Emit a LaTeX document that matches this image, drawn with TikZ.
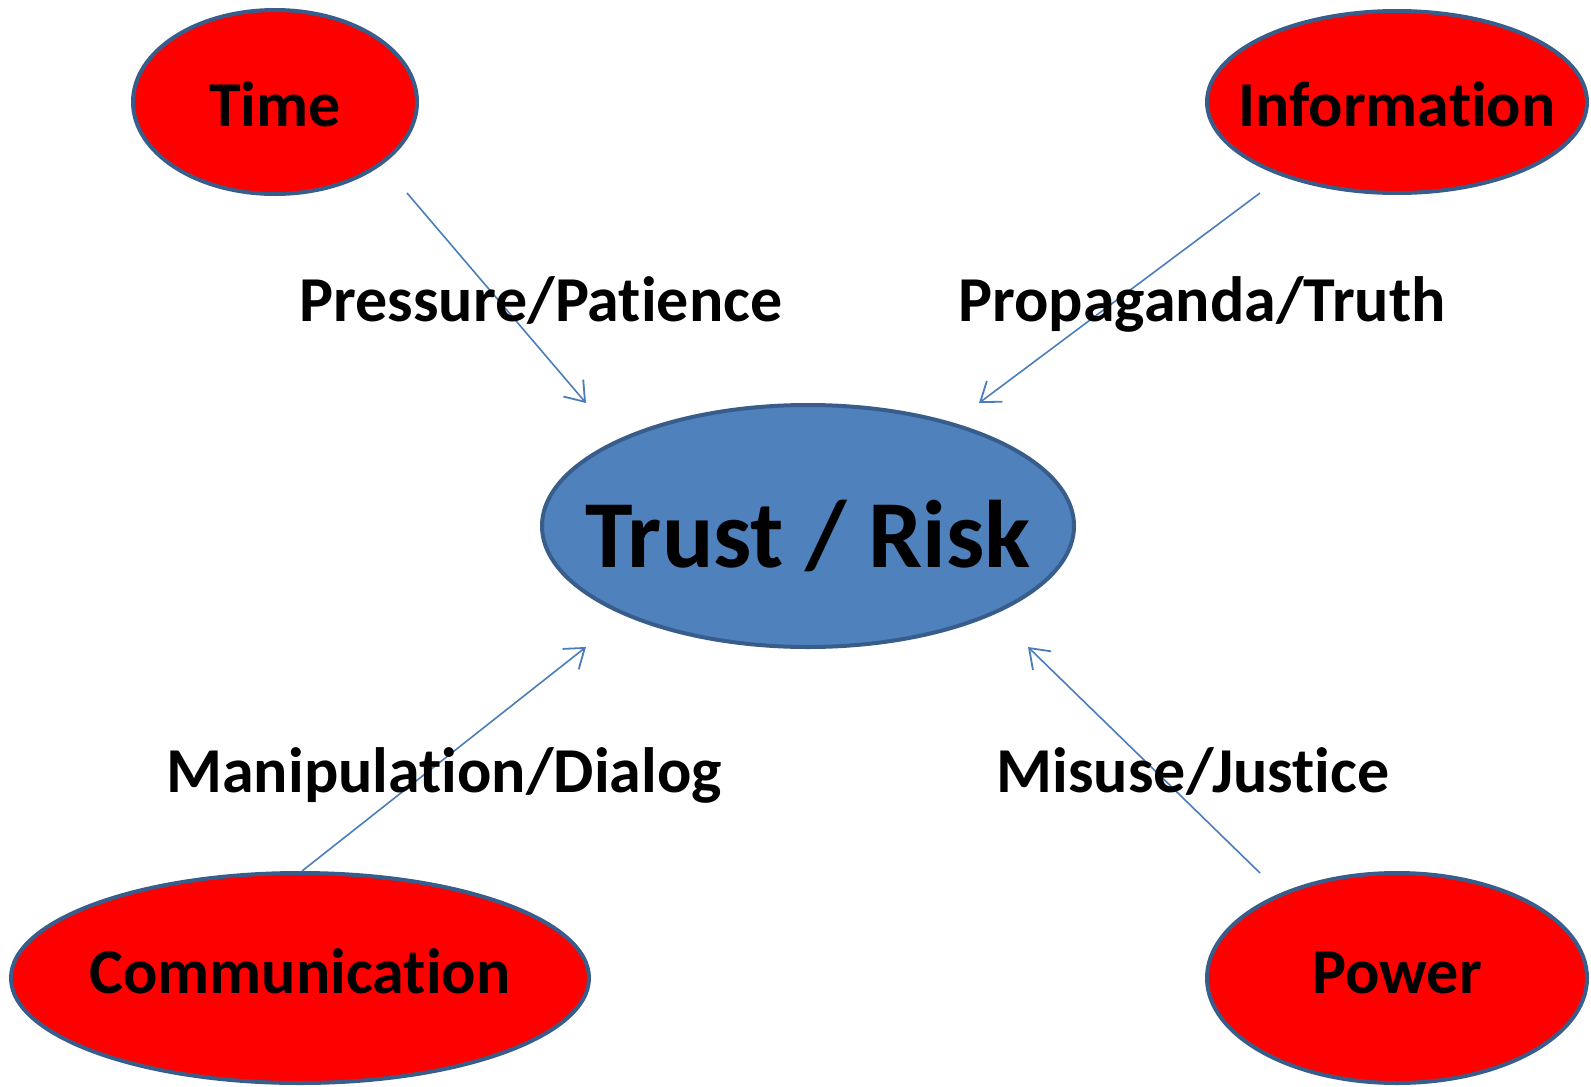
\documentclass[tikz,border=0pt]{standalone}
\usepackage{fontspec}
\setmainfont{Carlito}[RawFeature={-liga;-clig;-calt;-dlig}]
\usepackage{tikz}
\usepackage{xcolor}
\usetikzlibrary{positioning, arrows.meta, shapes.geometric}
\definecolor{trred}{RGB}{255, 0, 0}
\definecolor{trblue}{RGB}{79, 129, 189}
\definecolor{trborder}{RGB}{56, 93, 138}
\definecolor{trarrow}{RGB}{74, 126, 187}
\newcommand{\ovaltext}[1]{\makebox[0pt]{#1}}
\tikzset{
    ovalnode/.style={ellipse, draw=trborder, line width=2pt, inner sep=0pt, text depth=0pt},
    rednode/.style={ovalnode, fill=trred, text height=20.6pt, font=\fontsize{32}{38}\selectfont\bfseries},
    toprow/.style={text height=24.6pt},
    bottomrow/.style={text height=15pt},
    trustnode/.style={ovalnode, fill=trblue, text height=41pt, font=\fontsize{48}{58}\selectfont\bfseries},
    edgelabel/.style={anchor=base, font=\fontsize{32}{38}\selectfont\bfseries},
    link/.style={-{Straight Barb[length=9pt, width=13pt, line width=0.9pt]}, draw=trarrow, line width=0.8pt}
}
\begin{document}
\begin{tikzpicture}[x=0.5pt, y=-0.5pt]
    \useasboundingbox (0,0) rectangle (1591,1087);

    % The central node
    \node[trustnode, minimum width=266pt, minimum height=121pt] (trust) at (808,526) {\ovaltext{Trust / Risk}};

    % The four influences
    \node[rednode, toprow, minimum width=142pt, minimum height=92pt] (time) at (275,102) {\ovaltext{Time}};
    \node[rednode, toprow, minimum width=190pt, minimum height=91pt] (info) at (1397,102) {\ovaltext{Information}};
    \node[rednode, bottomrow, minimum width=289pt, minimum height=105pt] (comm) at (300,978) {\ovaltext{Communication}};
    \node[rednode, bottomrow, minimum width=190pt, minimum height=105pt] (power) at (1397,978) {\ovaltext{Power}};

    % Free ends of the arrows
    \coordinate (timeout) at (407,193);
    \coordinate (timein) at (586,403);
    \coordinate (infoout) at (1260,193);
    \coordinate (infoin) at (979,403);
    \coordinate (commout) at (302,871);
    \coordinate (commin) at (586,647);
    \coordinate (powerout) at (1260,873);
    \coordinate (powerin) at (1028,647);

    \draw[link] (timeout) -- (timein);
    \draw[link] (infoout) -- (infoin);
    \draw[link] (commout) -- (commin);
    \draw[link] (powerout) -- (powerin);

    % Labels of the arrows
    \node[edgelabel] (pressure) at (541,321) {Pressure/Patience};
    \node[edgelabel] (propaganda) at (1202,321) {Propaganda/Truth};
    \node[edgelabel] (manipulation) at (444,792) {Manipulation/Dialog};
    \node[edgelabel] (misuse) at (1193,792) {Misuse/Justice};
\end{tikzpicture}
\end{document}
